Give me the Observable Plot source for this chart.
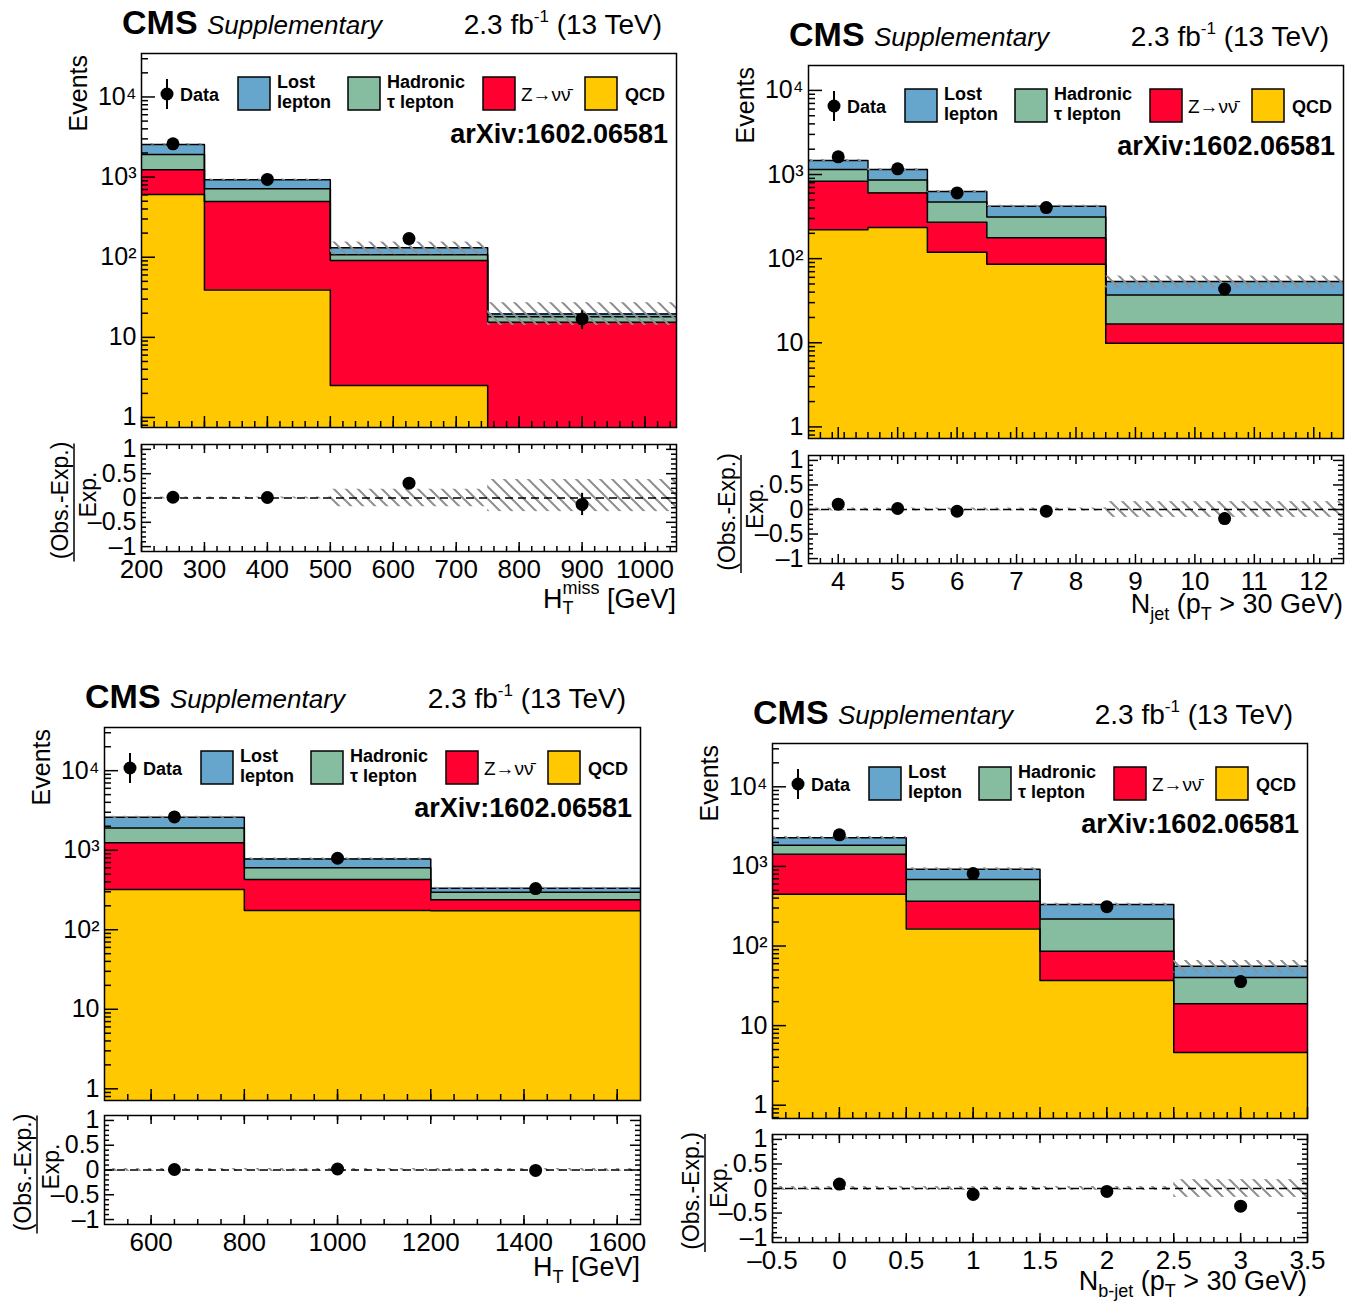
<!DOCTYPE html>
<html><head><meta charset="utf-8">
<script src="https://cdn.jsdelivr.net/npm/d3@7"></script>
<script src="https://cdn.jsdelivr.net/npm/@observablehq/plot@0.6"></script>
<style>
body{margin:0;background:#fff;}
#page{position:relative;width:1346px;height:1306px;overflow:hidden;background:#fff;}
#page svg{position:absolute;overflow:visible;}
</style></head><body><div id="page"></div>
<script>
// ---------------- data ----------------
const componentNames = ["QCD", "Z→νν̄", "Hadronic τ lepton", "Lost lepton"]; // bottom → top of stack
const componentColors = ["#ffc800", "#ff0030", "#86bca0", "#67a6cc"];

// H_T^miss
const htmissEdges = [200, 300, 500, 750, 1050];
const htmissQCD = [607, 39, 2.5, 0];
const htmissZinv = [628, 457, 88.5, 15.4];
const htmissHadTau = [685, 219, 16, 2.7];
const htmissLostLep = [640, 211, 24, 1.5];
const htmissData = [2600, 935, 171, 17.0];
const htmissDataErr = [51, 31, 13, 4.5];
const htmissUncUp = [0.02, 0.02, 0.18, 0.38];
const htmissUncDown = [0.02, 0.02, 0.18, 0.28];
const htmissTicks = [200, 300, 400, 500, 600, 700, 800, 900, 1000];
const htmissTickLabels = ["200", "300", "400", "500", "600", "700", "800", "900", "1000"];

// N_jet
const njetEdges = [3.5, 4.5, 5.5, 6.5, 8.5, 12.5];
const njetQCD = [221, 235, 119, 86, 9.85];
const njetZinv = [611, 369, 151, 91, 6.85];
const njetHadTau = [314, 259, 202, 136, 20.3];
const njetLostLep = [321, 283, 155, 106, 16.5];
const njetData = [1625, 1170, 605, 405, 43.6];
const njetDataErr = [40, 34, 25, 20, 6.6];
const njetUncUp = [0.03, 0.03, 0.03, 0.03, 0.16];
const njetUncDown = [0.03, 0.03, 0.03, 0.03, 0.16];
const njetTicks = [4, 5, 6, 7, 8, 9, 10, 11, 12];
const njetTickLabels = ["4", "5", "6", "7", "8", "9", "10", "11", "12"];

// H_T
const htEdges = [500, 800, 1200, 1650];
const htQCD = [320, 175, 173];
const htZinv = [925, 252, 66];
const htHadTau = [660, 177, 57];
const htLostLep = [689, 172, 36];
const htData = [2620, 792, 329];
const htDataErr = [51, 28, 18];
const htUncUp = [0.03, 0.03, 0.03];
const htUncDown = [0.03, 0.03, 0.03];
const htTicks = [600, 800, 1000, 1200, 1400, 1600];
const htTickLabels = ["600", "800", "1000", "1200", "1400", "1600"];

// N_b-jet
const nbjetEdges = [-0.5, 0.5, 1.5, 2.5, 3.5];
const nbjetQCD = [448, 164, 36.8, 4.59];
const nbjetZinv = [978, 202, 49.2, 14.2];
const nbjetHadTau = [423, 319, 133, 21.4];
const nbjetLostLep = [437, 238, 113, 15.6];
const nbjetData = [2492, 812, 312, 35.7];
const nbjetDataErr = [50, 28, 18, 6];
const nbjetUncUp = [0.04, 0.04, 0.04, 0.18];
const nbjetUncDown = [0.04, 0.04, 0.04, 0.18];
const nbjetTicks = [-0.5, 0, 0.5, 1, 1.5, 2, 2.5, 3, 3.5];
const nbjetTickLabels = ["–0.5", "0", "0.5", "1", "1.5", "2", "2.5", "3", "3.5"];

const logTicks = [1, 10, 100, 1000, 10000];
const logTickLabels = ["1", "10", "10²", "10³", "10⁴"];
const ratioTicks = [-1, -0.5, 0, 0.5, 1];
const ratioTickLabels = ["–1", "–0.5", "0", "0.5", "1"];

const legendLabels = [["Lost", "lepton"], ["Hadronic", "τ lepton"], ["Z→νν̄"], ["QCD"]];

const panels = [
  {edges: htmissEdges, layers: [htmissQCD, htmissZinv, htmissHadTau, htmissLostLep], data: htmissData, dataErr: htmissDataErr, uncUp: htmissUncUp, uncDown: htmissUncDown, ticks: htmissTicks, tickLabels: htmissTickLabels},
  {edges: njetEdges, layers: [njetQCD, njetZinv, njetHadTau, njetLostLep], data: njetData, dataErr: njetDataErr, uncUp: njetUncUp, uncDown: njetUncDown, ticks: njetTicks, tickLabels: njetTickLabels},
  {edges: htEdges, layers: [htQCD, htZinv, htHadTau, htLostLep], data: htData, dataErr: htDataErr, uncUp: htUncUp, uncDown: htUncDown, ticks: htTicks, tickLabels: htTickLabels},
  {edges: nbjetEdges, layers: [nbjetQCD, nbjetZinv, nbjetHadTau, nbjetLostLep], data: nbjetData, dataErr: nbjetDataErr, uncUp: nbjetUncUp, uncDown: nbjetUncDown, ticks: nbjetTicks, tickLabels: nbjetTickLabels}
];

// ---------------- layout ----------------
const SUB = 'font-size="18"';
const layouts = [
  {left: 141, right: 676, top: 53, bottom: 427, rTop: 444, rBottom: 551, xDomain: [200, 1050], yDomain: [0.75, 34870], minorStep: 20, titleBase: 608,
   xTitle: `H<tspan ${SUB} dy="6">T</tspan><tspan ${SUB} dx="-11" dy="-20">miss</tspan><tspan dy="14"> [GeV]</tspan>`},
  {left: 808, right: 1343, top: 65, bottom: 438, rTop: 455, rBottom: 563, xDomain: [3.5, 12.5], yDomain: [0.728, 19770], minorStep: 0.2, titleBase: 613,
   xTitle: `N<tspan ${SUB} dy="7">jet</tspan><tspan dy="-7"> (p</tspan><tspan ${SUB} dy="7">T</tspan><tspan dy="-7"> &gt; 30 GeV)</tspan>`},
  {left: 104, right: 640, top: 727, bottom: 1100, rTop: 1115, rBottom: 1224, xDomain: [500, 1650], yDomain: [0.713, 34900], minorStep: 50, titleBase: 1276,
   xTitle: `H<tspan ${SUB} dy="7">T</tspan><tspan dy="-7"> [GeV]</tspan>`},
  {left: 772, right: 1307, top: 743, bottom: 1118, rTop: 1134, rBottom: 1242, xDomain: [-0.5, 3.5], yDomain: [0.681, 35000], minorStep: 0.1, titleBase: 1290,
   xTitle: `N<tspan ${SUB} dy="7">b-jet</tspan><tspan dy="-7"> (p</tspan><tspan ${SUB} dy="7">T</tspan><tspan dy="-7"> &gt; 30 GeV)</tspan>`}
];

const FONT = "'Liberation Sans', Arial, Helvetica, sans-serif";
const NS = "http://www.w3.org/2000/svg";
const page = document.getElementById("page");

function addHatch(svg, id) {
  const defs = document.createElementNS(NS, "defs");
  defs.innerHTML = `<pattern id="${id}" patternUnits="userSpaceOnUse" width="12" height="12"><path d="M-3,-3L15,15M-3,9L3,15M9,-3L15,3" stroke="#8f8f8f" stroke-width="2" fill="none"/></pattern>`;
  svg.insertBefore(defs, svg.firstChild);
}

function place(svg, x, y) {
  svg.style.left = x + "px";
  svg.style.top = y + "px";
  page.appendChild(svg);
}

function makePanel(k, P, L) {
  const n = P.data.length;
  const cum = [];
  let acc = new Array(n).fill(0);
  for (const arr of P.layers) { acc = acc.map((a, i) => a + arr[i]); cum.push(acc); }
  const total = cum[cum.length - 1];
  const FLOOR = 1e-3;
  const bins = d3.range(n).map(i => ({x1: P.edges[i], x2: P.edges[i + 1], xc: (P.edges[i] + P.edges[i + 1]) / 2}));
  const W = L.right - L.left, H = L.bottom - L.top, RH = L.rBottom - L.rTop;

  // ticks
  const xMinor = d3.range(Math.round((L.xDomain[1] - L.xDomain[0]) / L.minorStep) + 1).map(i => L.xDomain[0] + i * L.minorStep)
    .filter(v => v > L.xDomain[0] + 1e-9 && v < L.xDomain[1] - 1e-9);
  const logMinor = [];
  for (let d = -1; d <= 5; d++) for (let m = 2; m <= 9; m++) {
    const v = m * Math.pow(10, d);
    if (v > L.yDomain[0] && v < L.yDomain[1]) logMinor.push(v);
  }
  const ratioMinor = d3.range(-10, 11).map(i => i / 10).filter(v => Math.abs(v * 2 - Math.round(v * 2)) > 1e-6);
  const fmtX = d => P.tickLabels[P.ticks.indexOf(d)];

  // ---------- upper ----------
  const mL = 90, mR = 10, mT = 10, mB = 10;
  const layerMarks = P.layers.map((arr, j) => Plot.rect(
    bins.map((b, i) => ({...b, lo: Math.max(j ? cum[j - 1][i] : 0, FLOOR), hi: cum[j][i]})).filter((r, i) => arr[i] > 0),
    {x1: "x1", x2: "x2", y1: "lo", y2: "hi", fill: componentColors[j], shapeRendering: "crispEdges", clip: true}));
  const stepMarks = cum.map(c => Plot.line(
    P.edges.map((e, i) => ({x: e, y: Math.max(c[Math.min(i, n - 1)], FLOOR)})),
    {x: "x", y: "y", curve: "step-after", stroke: "black", strokeWidth: 1.5, clip: true}));
  const uncRows = bins.map((b, i) => ({...b, lo: total[i] * (1 - P.uncDown[i]), hi: total[i] * (1 + P.uncUp[i])}));
  const dataRows = bins.map((b, i) => ({x: b.xc, y: P.data[i], lo: P.data[i] - P.dataErr[i], hi: P.data[i] + P.dataErr[i]}));

  const upper = Plot.plot({
    width: W + mL + mR, height: H + mT + mB,
    marginLeft: mL, marginRight: mR, marginTop: mT, marginBottom: mB,
    style: {fontFamily: FONT, fontSize: "25px", color: "black", background: "transparent", overflow: "visible"},
    x: {domain: L.xDomain, axis: null},
    y: {type: "log", domain: L.yDomain},
    marks: [
      ...layerMarks,
      ...stepMarks,
      Plot.rect(uncRows, {x1: "x1", x2: "x2", y1: "lo", y2: "hi", fill: `url(#hatchU${k})`, clip: true}),
      Plot.ruleX(dataRows, {x: "x", y1: "lo", y2: "hi", stroke: "black", strokeWidth: 2}),
      Plot.dot(dataRows, {x: "x", y: "y", r: 6.5, fill: "black", stroke: null}),
      Plot.ruleY(logTicks.filter(v => v >= L.yDomain[0] && v <= L.yDomain[1]), {insetRight: W - 14, stroke: "black", strokeWidth: 1.5}),
      Plot.ruleY(logMinor, {insetRight: W - 7, stroke: "black", strokeWidth: 1.5}),
      Plot.ruleX(P.ticks, {insetTop: H - 11, stroke: "black", strokeWidth: 1.5}),
      Plot.ruleX(xMinor, {insetTop: H - 6, stroke: "black", strokeWidth: 1.5}),
      Plot.axisY({ticks: logTicks, tickSize: 0, tickPadding: 5, tickFormat: d => logTickLabels[logTicks.indexOf(d)], fontSize: 25, label: null}),
      Plot.frame({stroke: "black", strokeWidth: 1.5})
    ]
  });
  addHatch(upper, `hatchU${k}`);
  place(upper, L.left - mL, L.top - mT);

  // ---------- ratio ----------
  const rmL = 90, rmR = 40, rmT = 10, rmB = 50;
  const ratioRows = bins.map((b, i) => ({
    x: b.xc,
    y: (P.data[i] - total[i]) / total[i],
    lo: (P.data[i] - P.dataErr[i] - total[i]) / total[i],
    hi: (P.data[i] + P.dataErr[i] - total[i]) / total[i]
  }));
  const ratioUnc = bins.map((b, i) => ({...b, lo: -P.uncDown[i], hi: P.uncUp[i]}));
  const ratio = Plot.plot({
    width: W + rmL + rmR, height: RH + rmT + rmB,
    marginLeft: rmL, marginRight: rmR, marginTop: rmT, marginBottom: rmB,
    style: {fontFamily: FONT, fontSize: "25px", color: "black", background: "transparent", overflow: "visible"},
    x: {domain: L.xDomain},
    y: {domain: [-1.1, 1.1]},
    marks: [
      Plot.rect(ratioUnc, {x1: "x1", x2: "x2", y1: "lo", y2: "hi", fill: `url(#hatchR${k})`}),
      Plot.ruleY([0], {stroke: "black", strokeWidth: 1.3, strokeDasharray: "8,5"}),
      Plot.ruleX(ratioRows, {x: "x", y1: "lo", y2: "hi", stroke: "black", strokeWidth: 2}),
      Plot.dot(ratioRows, {x: "x", y: "y", r: 6.5, fill: "black", stroke: null}),
      Plot.ruleX(P.ticks, {insetTop: RH - 9, stroke: "black", strokeWidth: 1.5}),
      Plot.ruleX(xMinor, {insetTop: RH - 5, stroke: "black", strokeWidth: 1.5}),
      Plot.ruleX(P.ticks, {insetBottom: RH - 9, stroke: "black", strokeWidth: 1.5}),
      Plot.ruleX(xMinor, {insetBottom: RH - 5, stroke: "black", strokeWidth: 1.5}),
      Plot.ruleY(ratioTicks, {insetRight: W - 10, stroke: "black", strokeWidth: 1.5}),
      Plot.ruleY(ratioMinor, {insetRight: W - 5, stroke: "black", strokeWidth: 1.5}),
      Plot.ruleY(ratioTicks, {insetLeft: W - 10, stroke: "black", strokeWidth: 1.5}),
      Plot.ruleY(ratioMinor, {insetLeft: W - 5, stroke: "black", strokeWidth: 1.5}),
      Plot.axisX({ticks: P.ticks, tickSize: 0, tickPadding: 8, tickFormat: fmtX, fontSize: 26, label: null}),
      Plot.axisY({ticks: ratioTicks, tickSize: 0, tickPadding: 5, tickFormat: d => ratioTickLabels[ratioTicks.indexOf(d)], fontSize: 25, label: null}),
      Plot.frame({stroke: "black", strokeWidth: 1.5})
    ]
  });
  addHatch(ratio, `hatchR${k}`);
  place(ratio, L.left - rmL, L.rTop - rmT);
}

function overlayFor(L) {
  const l = L.left, r = L.right, t = L.top;
  const rc = (L.rTop + L.rBottom) / 2;
  let s = "";
  s += `<text x="${l - 19}" y="${t - 19}" font-size="34" font-weight="bold">CMS</text>`;
  s += `<text x="${l + 66}" y="${t - 19}" font-size="26" font-style="italic">Supplementary</text>`;
  s += `<text x="${r - 14}" y="${t - 19}" font-size="28" text-anchor="end">2.3 fb<tspan font-size="17" dy="-12">-1</tspan><tspan dy="12"> (13 TeV)</tspan></text>`;
  s += `<text transform="translate(${l - 54},${t + 2}) rotate(-90)" text-anchor="end" font-size="25">Events</text>`;
  // legend
  s += `<line x1="${l + 26}" x2="${l + 26}" y1="${t + 26}" y2="${t + 56}" stroke="black" stroke-width="2"/>`;
  s += `<circle cx="${l + 26}" cy="${t + 41}" r="6.5" fill="black"/>`;
  s += `<text x="${l + 39}" y="${t + 47.5}" font-size="18" font-weight="bold">Data</text>`;
  const boxX = [97, 207, 342, 444], textX = [136, 246, 380, 484], colorIdx = [3, 2, 1, 0];
  legendLabels.forEach((lines, i) => {
    s += `<rect x="${l + boxX[i]}" y="${t + 24}" width="32" height="33" fill="${componentColors[colorIdx[i]]}" stroke="black" stroke-width="1.5"/>`;
    const weight = i === 2 ? "normal" : "bold";
    if (lines.length === 2) {
      s += `<text x="${l + textX[i]}" y="${t + 34.5}" font-size="18" font-weight="${weight}">${lines[0]}</text>`;
      s += `<text x="${l + textX[i]}" y="${t + 54.5}" font-size="18" font-weight="${weight}">${lines[1]}</text>`;
    } else {
      s += `<text x="${l + textX[i]}" y="${t + 47.5}" font-size="${i === 2 ? 19 : 18}" font-weight="${weight}">${lines[0]}</text>`;
    }
  });
  s += `<text x="${r - 8}" y="${t + 90}" text-anchor="end" font-size="27" font-weight="bold">arXiv:1602.06581</text>`;
  // ratio y title
  s += `<text transform="translate(${l - 73},${rc + 3}) rotate(-90)" text-anchor="middle" font-size="23">(Obs.-Exp.)</text>`;
  s += `<line x1="${l - 67}" x2="${l - 67}" y1="${rc - 54}" y2="${rc + 64}" stroke="black" stroke-width="1.5"/>`;
  s += `<text transform="translate(${l - 45},${rc - 3}) rotate(-90)" text-anchor="middle" font-size="23">Exp.</text>`;
  // x title
  s += `<text x="${r}" y="${L.titleBase}" text-anchor="end" font-size="27">${L.xTitle}</text>`;
  return s;
}

panels.forEach((P, k) => makePanel(k, P, layouts[k]));

const ov = document.createElementNS(NS, "svg");
ov.setAttribute("width", 1346);
ov.setAttribute("height", 1306);
ov.setAttribute("font-family", FONT);
ov.style.left = "0px"; ov.style.top = "0px";
ov.innerHTML = layouts.map(overlayFor).join("");
page.appendChild(ov);
</script>
</body></html>
